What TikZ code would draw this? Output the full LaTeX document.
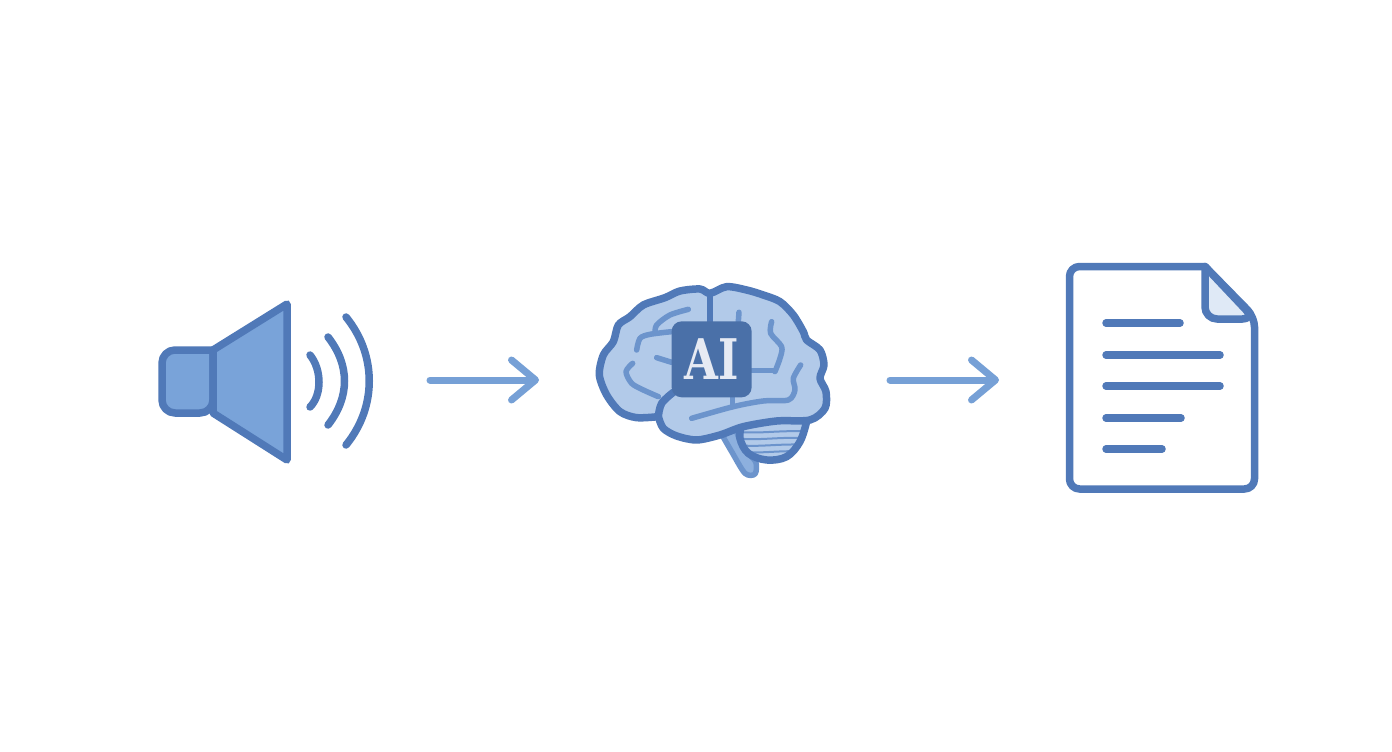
\documentclass[tikz,border=0pt]{standalone}
\usepackage{amsmath}
\usepackage{fontspec}
\newfontfamily\aifont{DejaVu Serif}
\usetikzlibrary{arrows.meta}
\definecolor{iconline}{HTML}{5079B8}
\definecolor{speakerfill}{HTML}{79A3D9}
\definecolor{brainfill}{HTML}{B2CAE9}
\definecolor{brainvein}{HTML}{6C94CC}
\definecolor{stemfill}{HTML}{8DB0DE}
\definecolor{aibox}{HTML}{4A70A8}
\definecolor{aitext}{HTML}{E6EAF3}
\definecolor{foldfill}{HTML}{DFE9F6}
\definecolor{flowcolor}{HTML}{76A0D6}
\tikzset{
	iconedge/.style={color=iconline, line width=7.5pt, line join=round, line cap=round},
	brainedge/.style={color=brainvein, line width=5.5pt, line join=round, line cap=round},
	cerebline/.style={color=brainvein, line width=2pt},
	flowarrow/.style={color=flowcolor, line width=7pt, line cap=round, -{Straight Barb[round,length=24pt,width=40pt]}},
}
\begin{document}
\begin{tikzpicture}[x=1pt, y=-1pt]
	\useasboundingbox [fill=white] (0, 0) rectangle (1392, 752);

	% speaker
	\filldraw [iconedge, fill=speakerfill, rounded corners=13pt] (213, 350) -- (162, 350) -- (162, 413) -- (213, 413) [sharp corners] -- cycle;
	\filldraw [iconedge, fill=speakerfill] (213, 350) -- (287, 304) -- (287, 460) -- (213, 413) -- cycle;
	\draw [iconedge] (310, 355) .. controls (322, 370) and (322, 395) .. (310, 407);
	\draw [iconedge] (328, 337) .. controls (350, 365) and (350, 397) .. (328, 425);
	\draw [iconedge] (346, 317) .. controls (377, 355) and (377, 407) .. (346, 445);

	% arrows
	\coordinate (inleft) at (430, 380);
	\coordinate (inright) at (539, 380);
	\coordinate (outleft) at (890, 380);
	\coordinate (outright) at (999, 380);
	\draw [flowarrow] (inleft) -- (inright);
	\draw [flowarrow] (outleft) -- (outright);

	% brain
	\begin{scope}[shift={(590, 275)}, scale=0.3333]
		\filldraw [iconedge, color=brainvein, fill=stemfill, line width=5.5pt] plot [smooth, tension=.5] coordinates {(395, 478) (425, 530) (465, 595) (495, 597) (497, 560) (460, 520) (440, 470)};
		\fill [brainfill] plot [smooth, tension=.6] coordinates {(455, 450) (450, 490) (475, 535) (530, 555) (590, 545) (630, 500) (650, 440)} -- cycle;
		\begin{scope}
			\clip plot [smooth, tension=.6] coordinates {(455, 450) (450, 490) (475, 535) (530, 555) (590, 545) (630, 500) (650, 440)} -- cycle;
			\foreach \y in {470, 490, 510, 530} {
				\draw [cerebline] (440, \y) .. controls (510, \y+8) and (570, \y-6) .. (660, \y);
			}
		\end{scope}
		\draw [iconedge] plot [smooth, tension=.6] coordinates {(455, 450) (450, 490) (475, 535) (530, 555) (590, 545) (630, 500) (650, 440)};
		\filldraw [iconedge, fill=brainfill] plot [smooth, tension=.5] coordinates {(205, 425) (140, 428) (90, 410) (50, 360) (28, 300) (40, 240) (70, 200) (85, 150) (120, 125) (160, 90) (225, 68) (270, 48) (330, 42) (360, 55) (410, 35) (470, 45) (520, 60) (570, 80) (610, 120) (640, 170) (650, 195) (690, 225) (702, 270) (690, 310) (708, 350) (705, 400) (660, 435) (560, 438) (460, 455) (390, 480) (320, 495) (260, 483) (220, 460) (205, 425)} -- cycle;
		\draw [iconedge] plot [smooth, tension=.6] coordinates {(205, 425) (215, 385) (250, 352)};
		\draw [iconedge, line width=5.5pt] (360, 55) -- (360, 140);
		\draw [brainedge] plot [smooth] coordinates {(295, 103) (240, 120) (200, 150) (195, 175)};
		\draw [brainedge] plot [smooth] coordinates {(140, 225) (150, 190) (180, 178) (245, 170)};
		\draw [brainedge] (200, 248) -- (245, 262);
		\draw [brainedge] plot [smooth] coordinates {(128, 265) (108, 290) (125, 325) (160, 345) (205, 365)};
		\draw [brainedge] (447, 112) -- (445, 140);
		\draw [brainedge] plot [smooth] coordinates {(545, 140) (542, 175) (575, 215) (570, 250) (555, 290)};
		\draw [brainedge] (485, 287) -- (555, 287);
		\draw [brainedge] plot [smooth] coordinates {(632, 270) (610, 310) (615, 345) (595, 375) (520, 378) (430, 395) (305, 430)};
		\draw [brainedge] (428, 365) -- (428, 395);
		\node [fill=aibox, rounded corners=10pt, minimum width=80pt, minimum height=76pt, inner sep=0pt, text=aitext, font=\aifont\bfseries\fontsize{56}{56}\selectfont] (chip) at (365, 253) {\scalebox{0.78}[1]{AI}};
	\end{scope}

	% document
	\filldraw [iconedge, fill=white, rounded corners=10pt] (1205, 266.5) -- (1069.5, 266.5) -- (1069.5, 489) -- (1254.5, 489) -- (1254.5, 317) [sharp corners] -- cycle;
	\filldraw [iconedge, fill=foldfill, rounded corners=12pt] (1205, 266.5) -- (1205, 319) -- (1254.5, 319) [sharp corners] -- cycle;
	\foreach \y/\xend in {323/1180, 355/1220, 386/1220, 418/1181, 449/1162} {
		\draw [iconedge] (1106, \y) -- (\xend, \y);
	}
\end{tikzpicture}
\end{document}
